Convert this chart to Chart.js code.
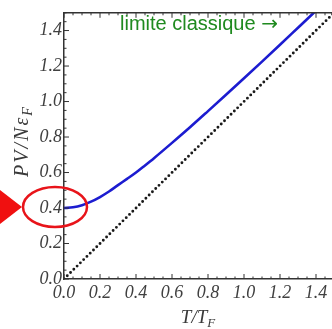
<!DOCTYPE html>
<html>
<head>
<meta charset="utf-8">
<script src="https://cdn.jsdelivr.net/npm/chart.js@4.4.1/dist/chart.umd.min.js"></script>
<style>
  html, body { margin: 0; padding: 0; background: #fff; overflow: hidden; }
  #wrap { width: 336px; height: 329px; }
</style>
</head>
<body>
<div id="wrap"><canvas id="c" width="336" height="329"></canvas></div>
<script>
// Reduced temperature T/T_F and pressure PV/(N eps_F) of the ideal Fermi gas
const tValues  = [0, 0.05, 0.1, 0.15, 0.2, 0.25, 0.3, 0.35, 0.4, 0.45, 0.5, 0.6, 0.7, 0.8, 0.9, 1.0, 1.1, 1.2, 1.3, 1.4, 1.5];
const pvValues = [0.400, 0.404, 0.416, 0.436, 0.462, 0.493, 0.529, 0.564, 0.600, 0.640, 0.681, 0.767, 0.855, 0.946, 1.038, 1.131, 1.225, 1.320, 1.416, 1.512, 1.608];
// Classical limit PV/(N eps_F) = T/T_F
const classicalT  = [0, 1.5];
const classicalPV = [0, 1.5];
// Axis ticks
const xTicks = [0, 0.2, 0.4, 0.6, 0.8, 1.0, 1.2, 1.4];
const yTicks = [0, 0.2, 0.4, 0.6, 0.8, 1.0, 1.2, 1.4];
const minorStep = 0.05;
// Texts
const classicText = 'limite classique ';
const classicArrow = '\u2192';
const groundStateValue = 0.4;

const serif = '"Liberation Serif", "DejaVu Serif", serif';
const tickFont = { family: serif, style: 'italic', size: 18 };
const tickColor = '#404040';
const axisColor = '#333';

const framePlugin = {
  id: 'frame',
  afterDraw(chart) {
    const { ctx, chartArea: a, scales: { x, y } } = chart;
    ctx.save();
    // top frame line
    ctx.strokeStyle = axisColor;
    ctx.lineWidth = 1.5;
    ctx.beginPath();
    ctx.moveTo(a.left, a.top);
    ctx.lineTo(a.right, a.top);
    ctx.stroke();

    // inward ticks (major and minor)
    ctx.lineWidth = 1;
    ctx.beginPath();
    const nMinor = Math.round(1.5 / minorStep);
    for (let i = 0; i <= nMinor; i++) {
      const v = +(i * minorStep).toFixed(4);
      const major = Math.abs(v * 5 - Math.round(v * 5)) < 1e-6;
      const len = major ? 5 : 2.5;
      const px = x.getPixelForValue(v);
      ctx.moveTo(px, a.bottom); ctx.lineTo(px, a.bottom - len);
      ctx.moveTo(px, a.top); ctx.lineTo(px, a.top + len);
      const py = y.getPixelForValue(v);
      ctx.moveTo(a.left, py); ctx.lineTo(a.left + len, py);
    }
    ctx.stroke();

    // axis titles
    ctx.fillStyle = '#3a3a3a';
    ctx.textBaseline = 'alphabetic';
    // x title: T/T_F
    ctx.font = 'italic 19px ' + serif;
    const main = 'T/T';
    const wMain = ctx.measureText(main).width;
    ctx.font = 'italic 13px ' + serif;
    const wSub = ctx.measureText('F').width;
    let sx = (a.left + 332) / 2 - (wMain + wSub) / 2;
    ctx.font = 'italic 19px ' + serif;
    ctx.textAlign = 'left';
    ctx.fillText(main, sx, 323);
    ctx.font = 'italic 13px ' + serif;
    ctx.fillText('F', sx + wMain, 327);

    // y title: PV/N eps_F, rotated
    ctx.save();
    ctx.translate(28, 141);
    ctx.rotate(-Math.PI / 2);
    ctx.font = 'italic 20px ' + serif;
    ctx.letterSpacing = '2px';
    const yMain = 'PV/N\u03B5';
    const wyMain = ctx.measureText(yMain).width;
    ctx.font = 'italic 14px ' + serif;
    const wySub = ctx.measureText('F').width;
    const y0 = -(wyMain + wySub) / 2;
    ctx.font = 'italic 20px ' + serif;
    ctx.fillText(yMain, y0, 0);
    ctx.font = 'italic 14px ' + serif;
    ctx.fillText('F', y0 + wyMain, 4);
    ctx.restore();

    // classical-limit caption
    ctx.fillStyle = '#1f8a1f';
    ctx.font = '20px "Liberation Sans", Arial, sans-serif';
    ctx.textAlign = 'left';
    ctx.fillText(classicText, 120, 30);
    const wc = ctx.measureText(classicText).width;
    ctx.font = '20px "DejaVu Sans", sans-serif';
    ctx.fillText(classicArrow, 120 + wc, 30);

    // highlight of the T = 0 value
    const cx = x.getPixelForValue(0) - 9;
    const cy = y.getPixelForValue(groundStateValue) - 1;
    ctx.strokeStyle = '#e8141a';
    ctx.lineWidth = 2.5;
    ctx.beginPath();
    ctx.ellipse(cx, cy, 32, 20, 0, 0, Math.PI * 2);
    ctx.stroke();

    // red pointer arrowhead
    ctx.fillStyle = '#f01010';
    ctx.beginPath();
    ctx.moveTo(-4, cy - 20);
    ctx.lineTo(cx - 33, cy);
    ctx.lineTo(-4, cy + 20);
    ctx.closePath();
    ctx.fill();
    ctx.restore();
  }
};

new Chart(document.getElementById('c'), {
  type: 'line',
  data: {
    datasets: [
      {
        label: 'Fermi',
        data: tValues.map((t, i) => ({ x: t, y: pvValues[i] })),
        borderColor: '#1c1cd0',
        borderWidth: 2.6,
        pointRadius: 0,
        cubicInterpolationMode: 'monotone',
        fill: false
      },
      {
        label: 'classique',
        data: classicalT.map((t, i) => ({ x: t, y: classicalPV[i] })),
        borderColor: '#1a1a1a',
        borderWidth: 2.9,
        borderDash: [0, 4.6],
        borderCapStyle: 'round',
        pointRadius: 0,
        fill: false
      }
    ]
  },
  plugins: [framePlugin],
  options: {
    responsive: false,
    animation: false,
    devicePixelRatio: 1,
    layout: { padding: { top: 8, right: 2, left: 0, bottom: 0 } },
    plugins: { legend: { display: false }, tooltip: { enabled: false } },
    scales: {
      x: {
        type: 'linear',
        min: 0, max: 1.5,
        afterBuildTicks: s => { s.ticks = xTicks.map(v => ({ value: v })); },
        afterFit: s => { s.height = 50; },
        grid: { display: false, drawTicks: false },
        border: { display: true, color: axisColor, width: 1.5 },
        ticks: {
          font: tickFont, color: tickColor, padding: 3, maxRotation: 0,
          callback: v => v.toFixed(1)
        }
      },
      y: {
        type: 'linear',
        min: 0, max: 1.5,
        afterBuildTicks: s => { s.ticks = yTicks.map(v => ({ value: v })); },
        afterFit: s => { s.width = 64; },
        grid: { display: false, drawTicks: false },
        border: { display: true, color: axisColor, width: 1.5 },
        ticks: {
          font: tickFont, color: tickColor, padding: 2,
          callback: v => v.toFixed(1)
        }
      }
    }
  }
});
</script>
</body>
</html>
